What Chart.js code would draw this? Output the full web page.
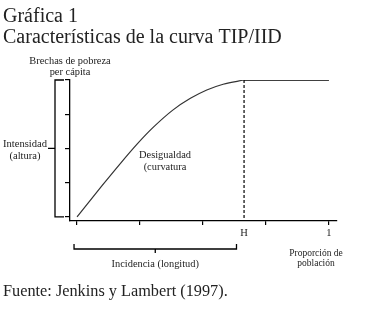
<!DOCTYPE html>
<html>
<head>
<meta charset="utf-8">
<script src="https://cdn.jsdelivr.net/npm/chart.js@4/dist/chart.umd.min.js"></script>
<style>
  html, body { margin: 0; padding: 0; background: #fff; }
  #wrap { width: 372px; height: 312px; }
</style>
</head>
<body>
<div id="wrap"><canvas id="tip"></canvas></div>
<script>
// datos de la curva TIP
var curveX = [0, 0.05, 0.1, 0.17, 0.24, 0.3, 0.38, 0.45, 0.515, 0.58, 0.663];
var curveY = [0, 0.116, 0.23, 0.386, 0.535, 0.65, 0.78, 0.866, 0.927, 0.969, 1];
var plateauX = [0.663, 1];
var plateauY = [1, 1];
var H = 0.663;

var xTicks = [0, 0.25, 0.5, H, 0.75, 1];
var xTickLabels = ["", "", "", "H", "", "1"];
var yTicks = [0, 0.25, 0.5, 0.75, 1];

var titleLines = ["Gráfica 1", "Características de la curva TIP/IID"];
var yTitle = ["Brechas de pobreza", "per cápita"];
var intensLabel = ["Intensidad", "(altura)"];
var desigLabel = ["Desigualdad", "(curvatura"];
var incidLabel = "Incidencia (longitud)";
var xTitle = ["Proporción de", "población"];
var fuente = "Fuente: Jenkins y Lambert (1997).";

var serif = "'Liberation Serif', 'DejaVu Serif', serif";

function pts(xs, ys) {
  return xs.map(function (x, i) { return { x: x, y: ys[i] }; });
}

var extras = {
  id: "extras",
  afterDraw: function (chart) {
    var c = chart.ctx, xs = chart.scales.x, ys = chart.scales.y;
    c.save();
    c.fillStyle = "#222";
    c.textBaseline = "alphabetic";

    // titulo
    c.textAlign = "left";
    c.font = "20px " + serif;
    c.fillText(titleLines[0], 3, 22);
    c.fillText(titleLines[1], 3, 43);

    // linea punteada en H
    c.strokeStyle = "#000";
    c.lineWidth = 1.2;
    c.setLineDash([3, 2]);
    c.beginPath();
    c.moveTo(xs.getPixelForValue(H), ys.getPixelForValue(1));
    c.lineTo(xs.getPixelForValue(H), ys.bottom);
    c.stroke();
    c.setLineDash([]);

    // corchete izquierdo (intensidad)
    var bx = 55, top = ys.getPixelForValue(1), bot = ys.getPixelForValue(0), mid = ys.getPixelForValue(0.5);
    c.lineWidth = 1.3;
    c.beginPath();
    c.moveTo(bx + 9, top); c.lineTo(bx, top); c.lineTo(bx, bot); c.lineTo(bx + 9, bot);
    c.moveTo(bx, mid); c.lineTo(bx - 7, mid);
    c.stroke();

    // corchete inferior (incidencia)
    var by = 249, l = xs.getPixelForValue(-0.012), r = xs.getPixelForValue(H - 0.03), m = (l + r) / 2;
    c.beginPath();
    c.moveTo(l, by - 5); c.lineTo(l, by); c.lineTo(r, by); c.lineTo(r, by - 5);
    c.moveTo(m, by); c.lineTo(m, by + 4);
    c.stroke();

    c.textAlign = "center";
    c.font = "10.4px " + serif;
    c.fillText(yTitle[0], xs.left, 64);
    c.fillText(yTitle[1], xs.left, 75);
    c.font = "10.6px " + serif;
    c.fillText(intensLabel[0], 25, 147);
    c.fillText(intensLabel[1], 25, 159);
    c.font = "10.4px " + serif;
    c.fillText(desigLabel[0], 165, 158);
    c.fillText(desigLabel[1], 165, 170);
    c.fillText(incidLabel, m, 267);
    c.font = "9.5px " + serif;
    c.fillText(xTitle[0], 316, 256);
    c.fillText(xTitle[1], 316, 266);

    c.textAlign = "left";
    c.font = "16.3px " + serif;
    c.fillText(fuente, 3, 296);
    c.restore();
  }
};

new Chart("tip", {
  type: "scatter",
  data: {
    datasets: [{
      data: pts(curveX, curveY),
      showLine: true,
      borderColor: "#333",
      borderWidth: 1.2,
      pointRadius: 0,
      cubicInterpolationMode: "monotone"
    }, {
      data: pts(plateauX, plateauY),
      showLine: true,
      borderColor: "#000",
      borderWidth: 1.5,
      pointRadius: 0
    }]
  },
  options: {
    responsive: true,
    maintainAspectRatio: false,
    animation: false,
    layout: { padding: { top: 80, right: 35, left: 0, bottom: 0 } },
    plugins: { legend: { display: false }, tooltip: { enabled: false } },
    scales: {
      x: {
        type: "linear",
        min: -0.028, max: 1.032,
        afterFit: function (s) { s.height = 91; },
        afterBuildTicks: function (s) { s.ticks = xTicks.map(function (v) { return { value: v }; }); },
        border: { color: "#000", width: 1.3 },
        grid: {
          drawOnChartArea: false, tickLength: 4, lineWidth: 1.2,
          color: function (ctx) { return ctx.tick && ctx.tick.value === H ? "rgba(0,0,0,0)" : "#000"; }
        },
        ticks: {
          autoSkip: false, maxRotation: 0, padding: 2, color: "#222",
          font: { family: serif, size: 10.5 },
          callback: function (v, i) { return xTickLabels[i]; }
        }
      },
      y: {
        type: "linear",
        min: -0.03, max: 1,
        afterFit: function (s) { s.width = 70; },
        afterBuildTicks: function (s) { s.ticks = yTicks.map(function (v) { return { value: v }; }); },
        border: { color: "#000", width: 1.3 },
        grid: { drawOnChartArea: false, tickLength: 5, lineWidth: 1.2, color: "#000" },
        ticks: { display: false }
      }
    }
  },
  plugins: [extras]
});
</script>
</body>
</html>
